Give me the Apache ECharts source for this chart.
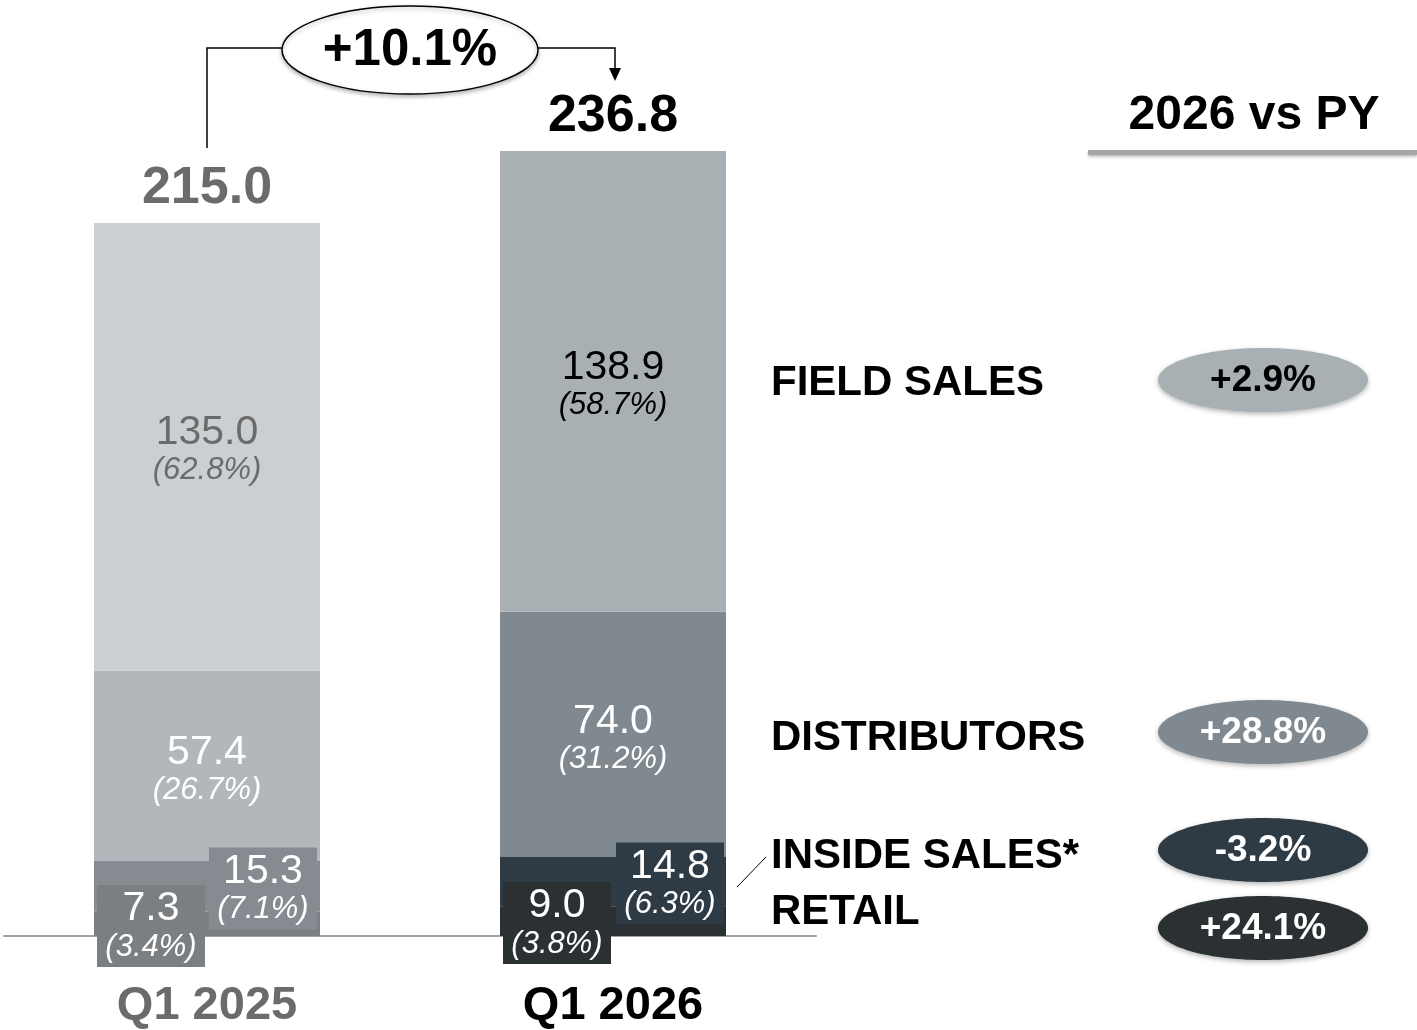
<!DOCTYPE html>
<html>
<head>
<meta charset="utf-8">
<script src="https://cdn.jsdelivr.net/npm/echarts@6/dist/echarts.min.js"></script>
<style>
  html, body { margin: 0; padding: 0; background: #fff; }
  #container { width: 1417px; height: 1030px; }
</style>
</head>
<body>
<div id="container"></div>
<script>
const categories = ['Q1 2025', 'Q1 2026'];
const segmentNames = ['RETAIL', 'INSIDE SALES*', 'DISTRIBUTORS', 'FIELD SALES'];

const retail = [7.3, 9.0];
const insideSales = [15.3, 14.8];
const distributors = [57.4, 74.0];
const fieldSales = [135.0, 138.9];

const retailShare = ['3.4%', '3.8%'];
const insideShare = ['7.1%', '6.3%'];
const distributorShare = ['26.7%', '31.2%'];
const fieldShare = ['62.8%', '58.7%'];

const totals = [215.0, 236.8];
const totalGrowth = '+10.1%';
// 2026 vs PY, same order as segmentNames
const growth = ['+24.1%', '-3.2%', '+28.8%', '+2.9%'];

const FONT = '"Liberation Sans", Arial, sans-serif';

const colors = {
  retail: ['#7b7f82', '#2b3033'],
  inside: ['#858b90', '#2f3b44'],
  distributors: ['#b1b7ba', '#7f898f'],
  field: ['#cbcfd2', '#a9b0b3']
};
const pillColors = ['#2b3033', '#2f3b44', '#7f898f', '#a9b0b3'];
const pillText = ['#fff', '#fff', '#fff', '#000'];
const pillY = [928, 850, 732, 380];
const nameY = [912, 856, 738, 383];

const rich = {
  v: { fontSize: 41, lineHeight: 42, fontFamily: FONT },
  p: { fontSize: 31, lineHeight: 34, fontStyle: 'italic', fontFamily: FONT }
};

function segLabel(value, share, color, extra) {
  return Object.assign({
    show: true,
    position: 'inside',
    formatter: '{v|' + value.toFixed(1) + '}\n{p|(' + share + ')}',
    color: color,
    align: 'center',
    rich: rich
  }, extra || {});
}

function boxLabel(value, share, bg, offset) {
  return segLabel(value, share, '#fff', {
    backgroundColor: bg,
    width: 100,
    padding: [3, 4, 3, 4],
    offset: offset
  });
}

const container = document.getElementById('container');
const chart = echarts.init(container);

const option = {
  animation: false,
  grid: { left: 4, width: 812, top: 140, bottom: 91 },
  xAxis: {
    type: 'category',
    data: categories,
    axisTick: { show: false },
    axisLine: { lineStyle: { color: '#a3a3a3', width: 2 } },
    axisLabel: {
      margin: 47,
      fontSize: 47,
      fontWeight: 'bold',
      fontFamily: FONT,
      color: (v, i) => (i === 0 ? '#6b6b6b' : '#000')
    }
  },
  yAxis: { type: 'value', min: 0, max: 240, show: false, splitLine: { show: false } },
  series: [
    {
      name: segmentNames[0], type: 'bar', stack: 's', barWidth: 226,
      data: retail.map((v, i) => ({
        value: v,
        itemStyle: { color: colors.retail[i] },
        label: boxLabel(v, retailShare[i], colors.retail[i], [-56, 2])
      }))
    },
    {
      name: segmentNames[1], type: 'bar', stack: 's', barWidth: 226,
      data: insideSales.map((v, i) => ({
        value: v,
        itemStyle: { color: colors.inside[i] },
        label: boxLabel(v, insideShare[i], colors.inside[i], i === 0 ? [56, 2] : [57, 2])
      }))
    },
    {
      name: segmentNames[2], type: 'bar', stack: 's', barWidth: 226,
      data: distributors.map((v, i) => ({
        value: v,
        itemStyle: { color: colors.distributors[i] },
        label: segLabel(v, distributorShare[i], '#fff', { offset: [0, 4] })
      }))
    },
    {
      name: segmentNames[3], type: 'bar', stack: 's', barWidth: 226,
      data: fieldSales.map((v, i) => ({
        value: v,
        itemStyle: { color: colors.field[i] },
        label: segLabel(v, fieldShare[i], i === 0 ? '#6b6b6b' : '#000', { offset: [0, 3] })
      }))
    },
    {
      name: 'total', type: 'bar', barWidth: 226, barGap: '-100%', z: 1,
      itemStyle: { color: 'transparent' },
      silent: true,
      data: totals.map((v, i) => ({
        value: v,
        label: {
          show: true,
          position: 'top',
          distance: 8,
          formatter: v.toFixed(1),
          fontSize: 52,
          fontWeight: 'bold',
          fontFamily: FONT,
          color: i === 0 ? '#6b6b6b' : '#000'
        }
      }))
    }
  ],
  graphic: [
    { type: 'polyline', shape: { points: [[207, 148], [207, 48], [283, 48]] }, style: { stroke: '#000', lineWidth: 1.5, fill: null } },
    { type: 'polyline', shape: { points: [[538, 48], [615, 48], [615, 70]] }, style: { stroke: '#000', lineWidth: 1.5, fill: null } },
    { type: 'polygon', shape: { points: [[609, 68], [621, 68], [615, 81]] }, style: { fill: '#000' } },
    {
      type: 'ellipse', shape: { cx: 410, cy: 50, rx: 128, ry: 44 },
      style: { fill: '#fff', stroke: '#000', lineWidth: 1.5, shadowBlur: 4, shadowOffsetY: 2, shadowColor: 'rgba(0,0,0,0.3)' }
    },
    {
      type: 'text', x: 410, y: 51,
      style: { text: totalGrowth, font: 'bold 51px ' + FONT, fill: '#000', align: 'center', verticalAlign: 'middle' }
    },
    {
      type: 'text', x: 1254, y: 116,
      style: { text: '2026 vs PY', font: 'bold 48px ' + FONT, fill: '#000', align: 'center', verticalAlign: 'middle' }
    },
    {
      type: 'rect', shape: { x: 1088, y: 150, width: 329, height: 5 },
      style: { fill: '#a6a6a6', shadowBlur: 3, shadowOffsetY: 2, shadowColor: 'rgba(0,0,0,0.25)' }
    },
    { type: 'line', shape: { x1: 737, y1: 887, x2: 766, y2: 857 }, style: { stroke: '#000', lineWidth: 1 } },
    ...segmentNames.map((n, i) => ({
      type: 'text', x: 771, y: nameY[i],
      style: { text: n, font: 'bold 42px ' + FONT, fill: '#000', align: 'left', verticalAlign: 'middle' }
    })),
    ...growth.map((g, i) => ({
      type: 'group',
      children: [
        {
          type: 'ellipse', shape: { cx: 1263, cy: pillY[i], rx: 105, ry: 32 },
          style: { fill: pillColors[i], shadowBlur: 5, shadowOffsetY: 2, shadowColor: 'rgba(0,0,0,0.3)' }
        },
        {
          type: 'text', x: 1263, y: pillY[i] + 1,
          style: { text: g, font: 'bold 37px ' + FONT, fill: pillText[i], align: 'center', verticalAlign: 'middle' }
        }
      ]
    }))
  ]
};

chart.setOption(option);
</script>
</body>
</html>
